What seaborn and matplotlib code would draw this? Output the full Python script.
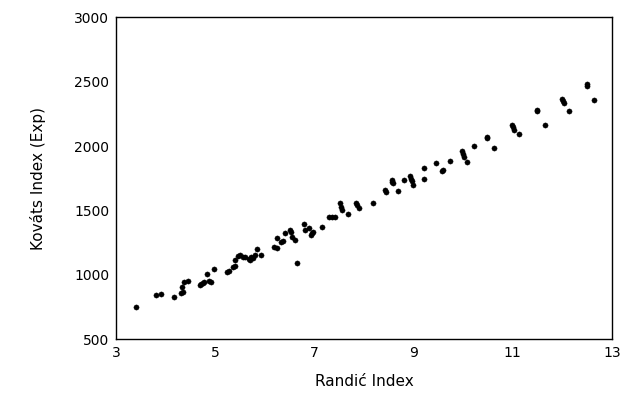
import matplotlib
matplotlib.use("Agg")
import matplotlib.pyplot as plt
import seaborn as sns
import pandas as pd

randic = [3.40, 3.80, 3.91, 4.16, 4.30, 4.36, 4.34, 4.38, 4.46, 4.69, 4.72, 4.75,
          4.77, 4.83, 4.87, 4.92, 4.98, 5.23, 5.27, 5.35, 5.39, 5.39, 5.46, 5.50,
          5.57, 5.60, 5.69, 5.71, 5.73, 5.76, 5.80, 5.85, 5.92, 6.18, 6.24, 6.25,
          6.33, 6.37, 6.41, 6.51, 6.52, 6.54, 6.61, 6.65, 6.78, 6.81, 6.90, 6.93,
          6.95, 6.97, 7.15, 7.30, 7.36, 7.42, 7.52, 7.53, 7.55, 7.67, 7.84, 7.86,
          7.89, 8.19, 8.42, 8.45, 8.56, 8.57, 8.59, 8.69, 8.81, 8.93, 8.95, 8.96,
          8.99, 9.21, 9.21, 9.45, 9.57, 9.60, 9.73, 9.97, 9.99, 10.02, 10.07, 10.22,
          10.47, 10.47, 10.63, 10.98, 11.00, 11.02, 11.13, 11.48, 11.49, 11.65,
          11.99, 12.01, 12.04, 12.14, 12.49, 12.50, 12.64]
kovats = [751, 847, 850, 827, 860, 870, 907, 948, 953, 925, 930, 935,
          945, 1008, 955, 948, 1049, 1021, 1033, 1062, 1072, 1117, 1150, 1158,
          1142, 1140, 1124, 1118, 1142, 1128, 1156, 1202, 1156, 1215, 1212, 1290,
          1259, 1260, 1324, 1350, 1330, 1298, 1272, 1096, 1393, 1350, 1363, 1311,
          1325, 1337, 1371, 1449, 1450, 1453, 1558, 1530, 1505, 1472, 1558, 1540,
          1519, 1562, 1661, 1648, 1739, 1725, 1713, 1653, 1739, 1765, 1745, 1726,
          1700, 1830, 1744, 1869, 1805, 1815, 1889, 1959, 1940, 1920, 1881, 2003,
          2063, 2075, 1990, 2166, 2150, 2128, 2094, 2270, 2285, 2166,
          2366, 2350, 2335, 2273, 2470, 2485, 2361]

x_ticks = [3, 5, 7, 9, 11, 13]
y_ticks = [500, 1000, 1500, 2000, 2500, 3000]

sns.set_style("white")
plt.rcParams['font.family'] = ['DejaVu Sans']
plt.rcParams['text.color'] = 'black'
plt.rcParams['axes.labelcolor'] = 'black'

df = pd.DataFrame({"Randić Index": randic, "Kováts Index (Exp)": kovats})

fig = plt.figure(figsize=(6.33, 3.93), dpi=100)
ax = fig.add_axes([0.1833, 0.1366, 0.7835, 0.8189])
sns.scatterplot(data=df, x="Randić Index", y="Kováts Index (Exp)", ax=ax,
                color="black", s=14, edgecolor="black", linewidth=0.3, legend=False)

ax.set_xlim(3, 13)
ax.set_ylim(500, 3000)
ax.set_xticks(x_ticks)
ax.set_yticks(y_ticks)
ax.set_xticklabels([str(t) for t in x_ticks], fontsize=10)
ax.set_yticklabels([str(t) for t in y_ticks], fontsize=10)
ax.tick_params(direction="inout", length=6, width=1, color="black", pad=2, labelcolor="black")
for sp in ax.spines.values():
    sp.set_visible(True)
    sp.set_color("black")
    sp.set_linewidth(1.0)
ax.set_xlabel("Randić Index", fontsize=11, labelpad=10, color="black")
ax.set_ylabel("Kováts Index (Exp)", fontsize=11, labelpad=20, color="black")

fig.savefig("out.png", dpi=100, facecolor="white")
